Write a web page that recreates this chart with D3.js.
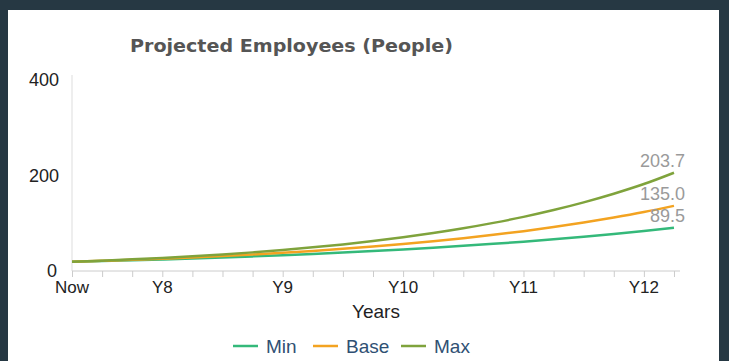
<!DOCTYPE html>
<html>
<head>
<meta charset="utf-8">
<script src="https://cdn.jsdelivr.net/npm/d3@7"></script>
<style>
body{margin:0;background:#263843;}
svg{display:block;}
</style>
</head>
<body>
<script>
// quarterly points, Now .. Y12 Q2
const quarters=d3.range(21)
const tickIdx=[0,3,7,11,15,19]
const tickLabels=["Now","Y8","Y9","Y10","Y11","Y12"]
const minVals=[19.0,20.5,22.2,24.0,25.9,28.0,30.3,32.7,35.3,38.2,41.3,44.6,48.2,52.1,56.3,60.8,65.7,71.0,76.7,82.9,89.5]
const baseVals=[19.0,21.0,23.1,25.5,28.1,31.0,34.2,37.7,41.6,45.9,50.6,55.8,61.5,67.9,74.9,82.6,91.1,100.5,110.8,122.2,135.0]
const maxVals=[19.0,21.4,24.1,27.1,30.5,34.3,38.6,43.5,49.0,55.1,62.1,69.9,78.6,88.5,99.7,112.2,126.3,142.2,160.1,180.2,203.7]
const seriesNames=["Min","Base","Max"]
const colors=["#34b97a","#f3a321","#7fa33c"]

const w=729,h=361;
const svg=d3.select("body").append("svg").attr("width",w).attr("height",h)
svg.append("rect").attr("x",8).attr("y",10).attr("width",711).attr("height",h).attr("fill","#fff")

const x=d3.scaleLinear().domain([0,20.2]).range([72,680])
const y=d3.scaleLinear().domain([0,400]).range([271,78])

svg.append("text").attr("x",130).attr("y",52)
.text("Projected Employees (People)")
.attr("textLength",323).attr("lengthAdjust","spacingAndGlyphs")
.style("font","bold 17px 'DejaVu Sans'").attr("fill","#555")

// y axis
const ya=svg.append("g").attr("transform","translate(72,0)")
.call(d3.axisLeft(y).tickValues([0,200,400]).tickSize(0).tickPadding(13))
ya.select(".domain").attr("stroke","#ddd").attr("d","M0,75V271")
ya.selectAll("text").style("font","18px 'Liberation Sans'").attr("fill","#222").attr("dy","0.4em")
ya.selectAll(".tick").filter(d=>d===0).select("text").attr("dy","0.3em").attr("dx","-2")

// x axis
const xa=svg.append("g").attr("transform","translate(0,271)")
.call(d3.axisBottom(x).tickValues(quarters).tickSize(6).tickFormat(""))
xa.select(".domain").attr("stroke","#ccc").attr("d","M72,0H680")
xa.selectAll(".tick line").attr("stroke","#ccc")
svg.append("g").selectAll("text").data(tickIdx).join("text")
.attr("x",d=>x(d)).attr("y",293)
.attr("text-anchor","middle")
.text((d,i)=>tickLabels[i])
.style("font","17px 'Liberation Sans'").attr("fill","#222")

svg.append("text").attr("x",376).attr("y",318).attr("text-anchor","middle")
.text("Years").style("font","19px 'Liberation Sans'").attr("fill","#222")

const line=d3.line().x((d,i)=>x(i)).y(d=>y(d)).curve(d3.curveMonotoneX)
const all=[minVals,baseVals,maxVals]
svg.append("g").selectAll("path").data(all).join("path")
.attr("d",line).attr("fill","none").attr("stroke",(d,i)=>colors[i]).attr("stroke-width",2.5)

svg.append("g").selectAll("text").data(all).join("text")
.attr("x",x(20)+11).attr("y",d=>y(d[20])-6)
.attr("text-anchor","end")
.text(d=>d3.format(".1f")(d[20]))
.style("font","18px 'Liberation Sans'").attr("fill","#9a9a9a")

// legend
const lg=svg.append("g").attr("transform","translate(233,346)")
const lx=[0,80,168]
const item=lg.selectAll("g").data(seriesNames).join("g").attr("transform",(d,i)=>`translate(${lx[i]},0)`)
item.append("line").attr("x1",0).attr("x2",25).attr("y1",0).attr("y2",0)
.attr("stroke",(d,i)=>colors[i]).attr("stroke-width",2.5)
item.append("text").attr("x",33).attr("y",7).text(d=>d)
.style("font","19px 'Liberation Sans'").attr("fill","#2f5073")
</script>
</body>
</html>
